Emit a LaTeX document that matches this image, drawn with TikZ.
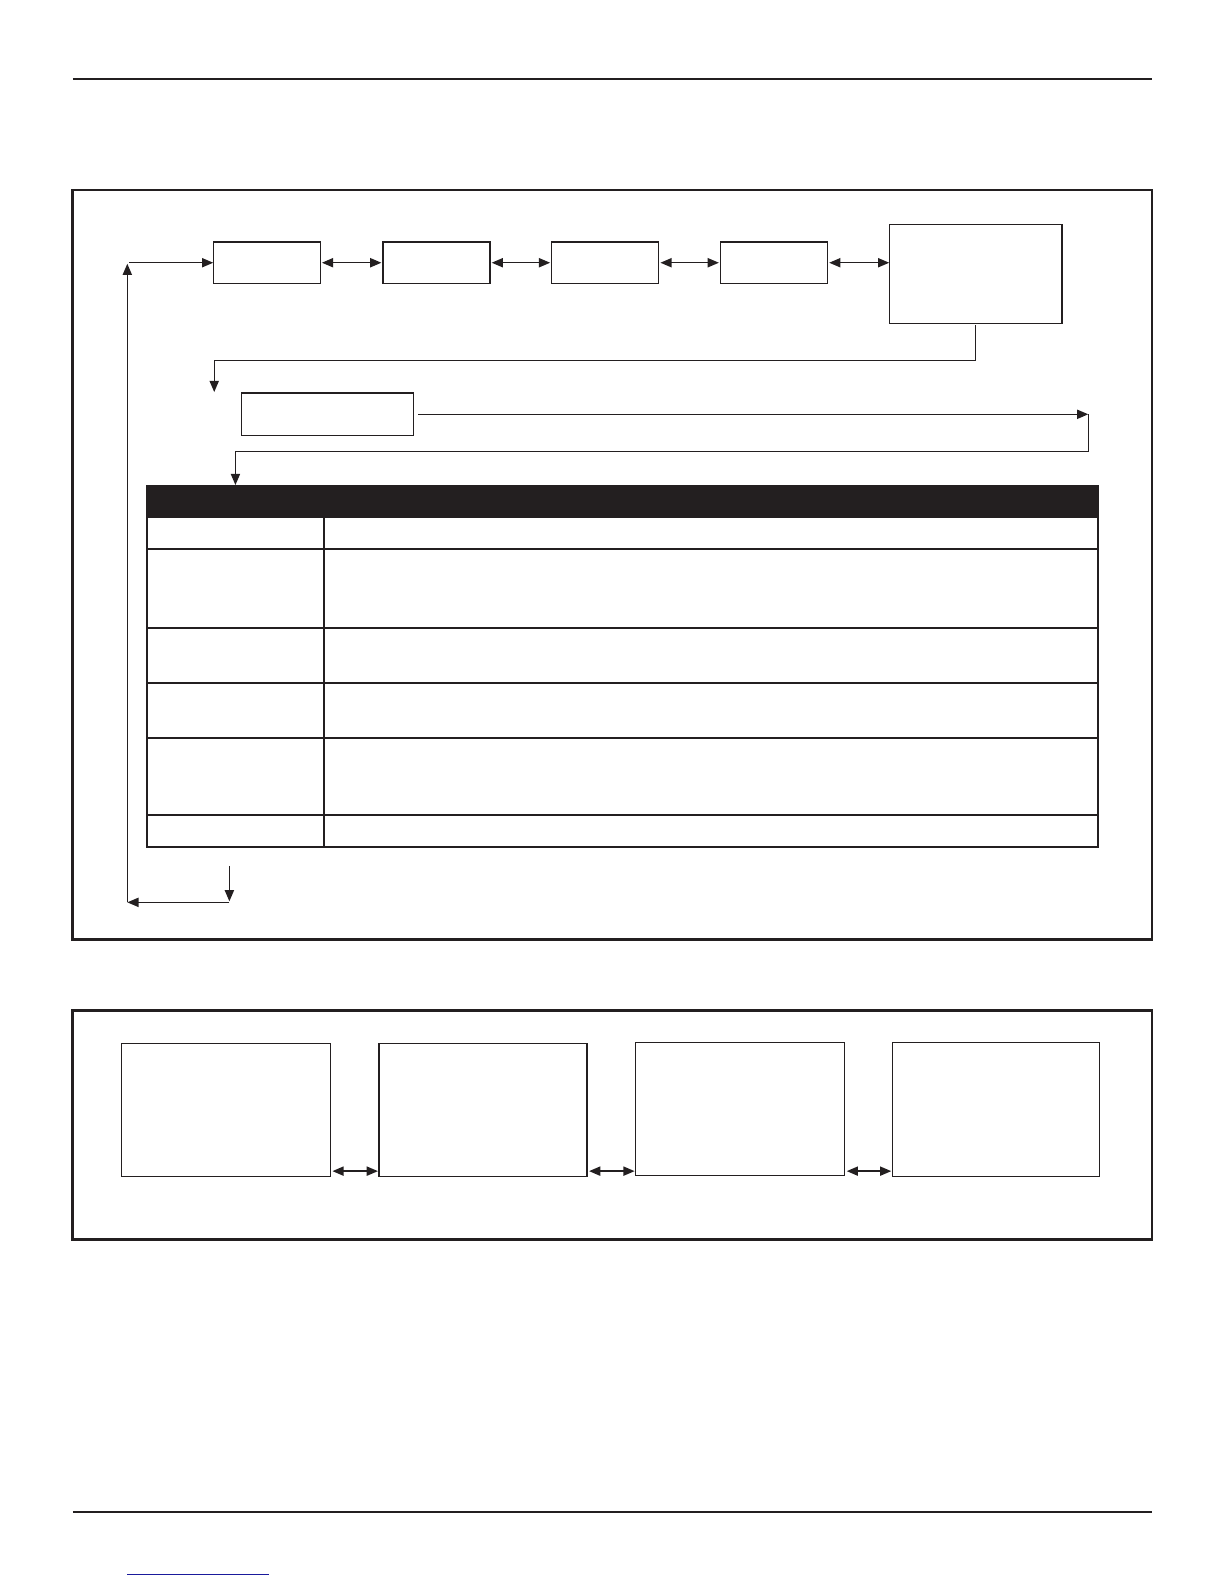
\documentclass[tikz,border=0pt]{standalone}
\usetikzlibrary{arrows.meta,calc}
\definecolor{ink}{HTML}{231F20}
\definecolor{linkblue}{HTML}{1A1A9C}
\def\pxu{0.50525}
\begin{document}
\begin{tikzpicture}[x=\pxu pt,y=-\pxu pt,
  conn/.style={draw=ink,line width=0.65pt,-{Triangle[length=5.6pt,width=4.6pt]}},
  dbl/.style={draw=ink,line width=0.65pt,{Triangle[length=5.6pt,width=4.6pt]}-{Triangle[length=5.6pt,width=4.6pt]}},
  box/.style={draw=ink,line width=0.65pt,inner sep=0pt,outer sep=0pt,rectangle},
  frame/.style={draw=ink,line width=1.4pt},
  tline/.style={draw=ink,line width=1pt}]
\useasboundingbox (0,0) rectangle (1211.3,1567.6);
% rules
\draw[ink,line width=0.9pt] (72,78) -- (1140,78);
\draw[ink,line width=1pt] (72,1496) -- (1140,1496);
\draw[linkblue,line width=0.7pt] (126,1558) -- (266,1558);
% frames
\draw[frame] (72,188) rectangle (1140,930);
\draw[frame] (72,1000) rectangle (1140,1227);
% top row boxes
\node[box,minimum width={106*\pxu pt},minimum height={41*\pxu pt}] (s1) at (264,260) {};
\node[box,minimum width={106*\pxu pt},minimum height={41*\pxu pt}] (s2) at (432,260) {};
\node[box,minimum width={106*\pxu pt},minimum height={41*\pxu pt}] (s3) at (599,260) {};
\node[box,minimum width={106*\pxu pt},minimum height={41*\pxu pt}] (s4) at (766,260) {};
\node[box,minimum width={171*\pxu pt},minimum height={98*\pxu pt}] (s5) at (965.5,271) {};
\node[box,minimum width={170*\pxu pt},minimum height={42*\pxu pt}] (s6) at (324,410) {};
% double arrows
\draw[dbl] ([xshift=0.8pt]s1.east) -- ([xshift=-0.8pt]s2.west);
\draw[dbl] ([xshift=0.8pt]s2.east) -- ([xshift=-0.8pt]s3.west);
\draw[dbl] ([xshift=0.8pt]s3.east) -- ([xshift=-0.8pt]s4.west);
\draw[dbl] ([xshift=0.8pt]s4.east) -- (s5.west |- s4.east);
% loop from big box
\coordinate (d1) at (212,388);
\draw[conn] ([yshift=-1pt]s5.south) |- (212,357) -- (d1);
\coordinate (r1) at (1077,410);
\draw[conn] ([xshift=2.5pt]s6.east) -- (r1);
\coordinate (d2) at (233,480);
\draw[conn] (r1) |- (233,447) -- (d2);
% table
\fill[ink] (145,481) rectangle (1087,512);
\draw[tline] (145,481) rectangle (1087,838);
\foreach \yy in {512,543,621,676,730,807} \draw[tline] (145,\yy) -- (1087,\yy);
\draw[tline] (321,512) -- (321,838);
% bottom return loop
\coordinate (u0) at (227,857);
\coordinate (u1) at (227,892);
\coordinate (lc) at (126,893);
\coordinate (lt) at (126,261);
\draw[conn] (u0) -- (u1);
\draw[conn] (227,893) -- (lc);
\draw[conn] (lc) -- (lt);
\draw[conn] (128,260) -- (s1.west);
% lower boxes
\node[box,minimum width={207*\pxu pt},minimum height={131*\pxu pt}] (b1) at (223.5,1098.5) {};
\node[box,minimum width={206*\pxu pt},minimum height={131*\pxu pt}] (b2) at (478,1098.5) {};
\node[box,minimum width={207*\pxu pt},minimum height={131*\pxu pt}] (b3) at (732.5,1097.5) {};
\node[box,minimum width={205*\pxu pt},minimum height={132*\pxu pt}] (b4) at (985.5,1098) {};
\draw[dbl] ([shift={(2,-5)}]b1.south east) -- ([shift={(-1,-5)}]b2.south west);
\draw[dbl] ([shift={(2,-5)}]b2.south east) -- ([shift={(-1,-5)}]b3.south west |- b2.south west);
\draw[dbl] ([shift={(2,-4)}]b3.south east) -- ([shift={(-1,-4)}]b4.south west |- b3.south west);
\end{tikzpicture}
\end{document}
